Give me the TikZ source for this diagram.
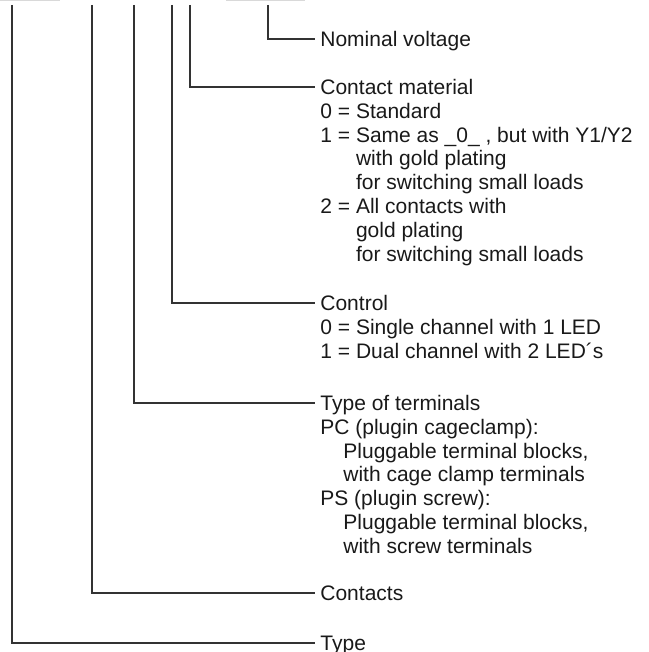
\documentclass[tikz,border=0pt]{standalone}
\usepackage{fontspec}
\setmainfont{Liberation Sans}
\begin{document}
\begin{tikzpicture}[x=0.5pt,y=-0.5pt,
  conn/.style={line width=0.6pt, draw=black!80},
  head/.style={anchor=west, inner xsep=2.5pt, inner ysep=0pt, text height=7.5pt, text depth=0pt,
    text=black!90, font=\fontsize{10.5}{11.9}\selectfont},
  detail/.style={anchor=base west, inner xsep=2.5pt, inner ysep=0pt,
    text=black!90, font=\fontsize{10.5}{11.9}\selectfont}]
\useasboundingbox (0,0) rectangle (648,652);
\draw[gray!30, line width=1pt] (0,0.5) -- (60,0.5);
\draw[gray!30, line width=1pt] (226,0.5) -- (305,0.5);

\coordinate (ptype) at (12,5);
\coordinate (pcont) at (92,5);
\coordinate (pterm) at (134,5);
\coordinate (pctrl) at (172,5);
\coordinate (pmat) at (190,5);
\coordinate (pvolt) at (268,5);

\node[head] (volt) at (315,39) {Nominal voltage};
\node[head] (mat) at (315,87) {Contact material};
\node[detail] (matx) at ([yshift=-11.9pt]mat.base west) {\begin{tabular}[t]{@{}l@{}}
0 = Standard\\
1 = Same as \_0\_ , but with Y1/Y2\\
\phantom{1 = }with gold plating\\
\phantom{1 = }for switching small loads\\
2 = All contacts with\\
\phantom{2 = }gold plating\\
\phantom{2 = }for switching small loads
\end{tabular}};
\node[head] (ctrl) at (315,303) {Control};
\node[detail] (ctrlx) at ([yshift=-11.9pt]ctrl.base west) {\begin{tabular}[t]{@{}l@{}}
0 = Single channel with 1 LED\\
1 = Dual channel with 2 LED´s
\end{tabular}};
\node[head] (term) at (315,403) {Type of terminals};
\node[detail] (termx) at ([yshift=-11.9pt]term.base west) {\begin{tabular}[t]{@{}l@{}}
PC (plugin cageclamp):\\
\hspace{11.5pt}Pluggable terminal blocks,\\
\hspace{11.5pt}with cage clamp terminals\\
PS (plugin screw):\\
\hspace{11.5pt}Pluggable terminal blocks,\\
\hspace{11.5pt}with screw terminals
\end{tabular}};
\node[head] (cont) at (315,593) {Contacts};
\node[head] (type) at (315,643) {Type};

\draw[conn] (pvolt) |- (volt.west);
\draw[conn] (pmat) |- (mat.west);
\draw[conn] (pctrl) |- (ctrl.west);
\draw[conn] (pterm) |- (term.west);
\draw[conn] (pcont) |- (cont.west);
\draw[conn] (ptype) |- (type.west);
\end{tikzpicture}
\end{document}
